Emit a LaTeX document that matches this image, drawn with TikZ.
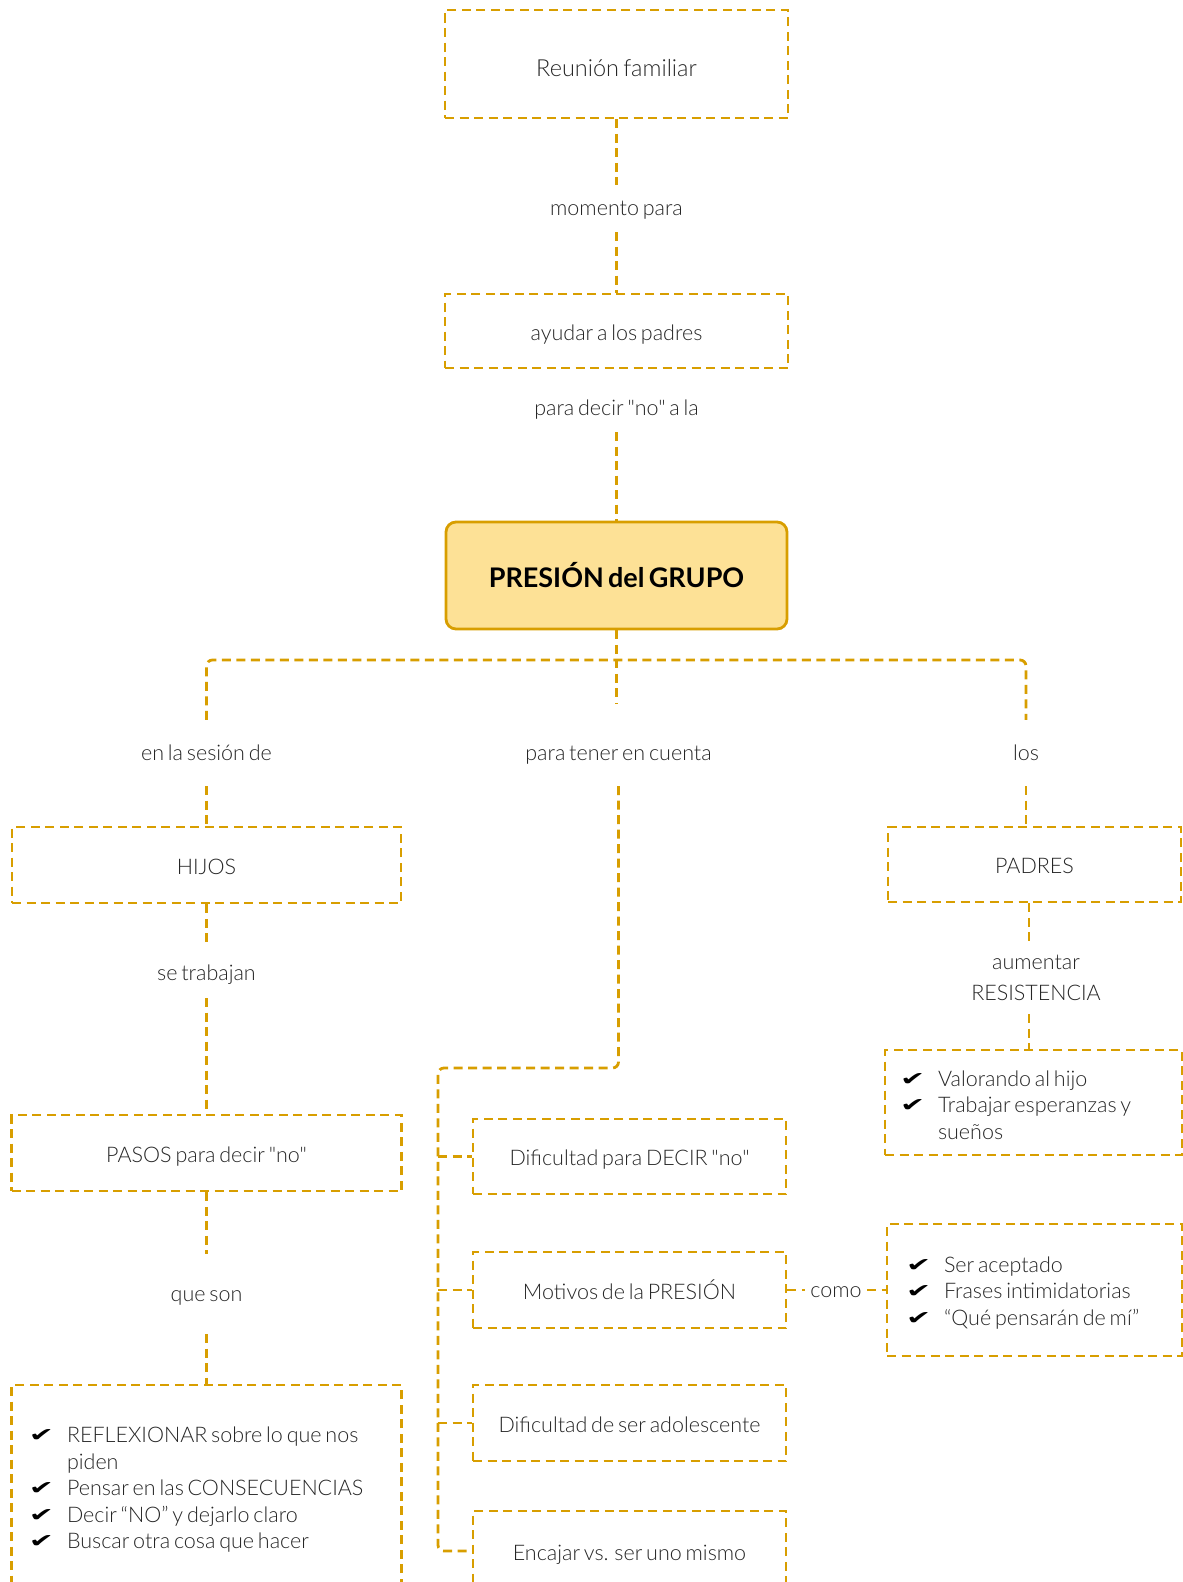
\documentclass[tikz,border=0pt]{standalone}
\usepackage{fontspec}
\usepackage{graphicx}
\setmainfont{Lato}[UprightFont=* Light, BoldFont=* Bold, Ligatures=TeXOff, WordSpace=0.65]
\newfontfamily\symfont{DejaVu Sans}
\definecolor{gold}{RGB}{216,158,0}
\definecolor{paleyellow}{RGB}{253,225,150}
\definecolor{ink}{RGB}{38,38,38}
% check-mark bullet for the list boxes
\newcommand{\tickmark}{\raisebox{1pt}{\scalebox{1.5}[0.95]{\symfont\fontsize{20}{20}\selectfont\color{black}✔}}}
\newcommand{\tickitem}[1]{\makebox[36pt][l]{\hspace*{-2pt}\tickmark}#1}
\newcommand{\tickcont}[1]{\hspace*{36pt}#1}
\newcommand{\firstline}{\rule{0pt}{21pt}}

\begin{document}
\begin{tikzpicture}[x=1pt,y=-1pt,
  txt/.style={text=ink, font=\fontsize{21.5}{26.5}\selectfont},
  frame/.style={draw=gold, line width=2.8pt, dash pattern=on 9pt off 5.5pt},
  box/.style={txt, frame, inner sep=0pt, align=center, text height=22pt, text depth=4pt},
  listbox/.style={txt, frame, inner ysep=0pt, align=flush left},
  lbl/.style={txt, inner sep=0pt, align=center, text height=17pt, text depth=3pt},
  lbl2/.style={txt, inner sep=0pt, align=center},
  conn/.style={frame},
  core/.style={draw=gold, fill=paleyellow, line width=2.8pt, rounded corners=10pt,
               font=\fontsize{27}{30}\selectfont\bfseries, text=black, inner sep=0pt}
]
\clip (0,0) rectangle (1183,1582);

% top of the map
\node[box, minimum width=343, minimum height=108, font=\fontsize{23.5}{28}\selectfont,
      text height=26pt, text depth=2pt] (reunion) at (616.5,64) {Reunión familiar};
\node[lbl, minimum height=47] (momento) at (616.5,208.5) {momento para};
\node[box, minimum width=343, minimum height=74] (ayudar) at (616.5,331) {ayudar a los padres};
\node[lbl, minimum height=48] (paradecir) at (616.5,408) {para decir "no" a la};
\node[core, minimum width=341, minimum height=107] (presion) at (616.5,575.5) {PRESIÓN del GRUPO};

% second level labels
\node[lbl, minimum height=66] (sesion) at (206.5,753) {en la sesión de};
\node[lbl, minimum height=66] (tener) at (618.5,753) {para tener en cuenta};
\node[lbl, minimum height=66] (los) at (1026,753) {los};

% left column
\node[box, minimum width=389, minimum height=76] (hijos) at (206.5,865) {HIJOS};
\node[lbl, minimum height=50] (trab) at (206.5,973) {se trabajan};
\node[box, minimum width=390, minimum height=76] (pasos) at (206.5,1153) {PASOS para decir "no"};
\node[lbl, minimum height=80] (queson) at (206.5,1294) {que son};
\node[listbox, minimum width=390, minimum height=204, text width=351pt, inner xsep=19.5pt] (reflex) at (206.5,1487) {%
  \firstline\tickitem{REFLEXIONAR sobre lo que nos}\\
  \tickcont{piden}\\
  \tickitem{Pensar en las CONSECUENCIAS}\\
  \tickitem{Decir “NO” y dejarlo claro}\\
  \tickitem{Buscar otra cosa que hacer}};

% right column
\node[box, minimum width=293, minimum height=75] (padres) at (1034.5,864.5) {PADRES};
\node[lbl2, minimum height=73, font=\fontsize{21.5}{31}\selectfont] (aum) at (1036,977.5) {aumentar\\RESISTENCIA};
\node[listbox, minimum width=297, minimum height=105, text width=263pt, inner xsep=17pt] (valor) at (1033.5,1102.5) {%
  \firstline\tickitem{Valorando al hijo}\\
  \tickitem{Trabajar esperanzas y}\\
  \tickcont{sueños}};

% middle column
\node[box, minimum width=313, minimum height=75] (dif1) at (629.5,1156.5) {Dificultad para DECIR "no"};
\node[box, minimum width=313, minimum height=76] (motivos) at (629.5,1290) {Motivos de la PRESIÓN};
\node[box, minimum width=313, minimum height=76] (adol) at (629.5,1423) {Dificultad de ser adolescente};
\node[box, minimum width=313, minimum height=80] (encajar) at (629.5,1551) {Encajar vs. ser uno mismo};
\node[lbl, minimum width=62] (como) at (836,1290) {como};
\node[listbox, minimum width=295, minimum height=132, text width=253pt, inner xsep=21pt] (ser) at (1034.5,1290) {%
  \firstline\tickitem{Ser aceptado}\\
  \tickitem{Frases intimidatorias}\\
  \tickitem{“Qué pensarán de mí”}};

\coordinate (fork) at (616.5,660);
\coordinate (trunk) at (438,1068);

% connectors
\draw[conn] (reunion) -- (momento);
\draw[conn] (momento) -- (ayudar);
\draw[conn] (paradecir) -- (presion);
\draw[conn, rounded corners=6pt] (sesion.north) |- (fork) -| (los.north);
\draw[conn, shorten >=16pt] (presion.south) -- (presion.south |- tener.north);
\draw[conn] (sesion) -- (hijos);
\draw[conn] (los.south) -- (los.south |- padres.north);
\draw[conn] (hijos) -- (trab);
\draw[conn] (trab) -- (pasos);
\draw[conn] (pasos) -- (queson);
\draw[conn] (queson) -- (reflex);
\draw[conn] ([xshift=-7pt]aum.north |- padres.south) -- ([xshift=-7pt]aum.north);
\draw[conn] ([xshift=-7pt]aum.south) -- ([xshift=-7pt]aum.south |- valor.north);
\draw[conn, rounded corners=6pt] (tener.south) |- (trunk) |- (encajar.west);
\draw[conn] (trunk |- dif1.west) -- (dif1.west);
\draw[conn] (trunk |- motivos.west) -- (motivos.west);
\draw[conn] (trunk |- adol.west) -- (adol.west);
\draw[conn] (motivos) -- (como);
\draw[conn] (como) -- (ser);
\end{tikzpicture}
\end{document}
